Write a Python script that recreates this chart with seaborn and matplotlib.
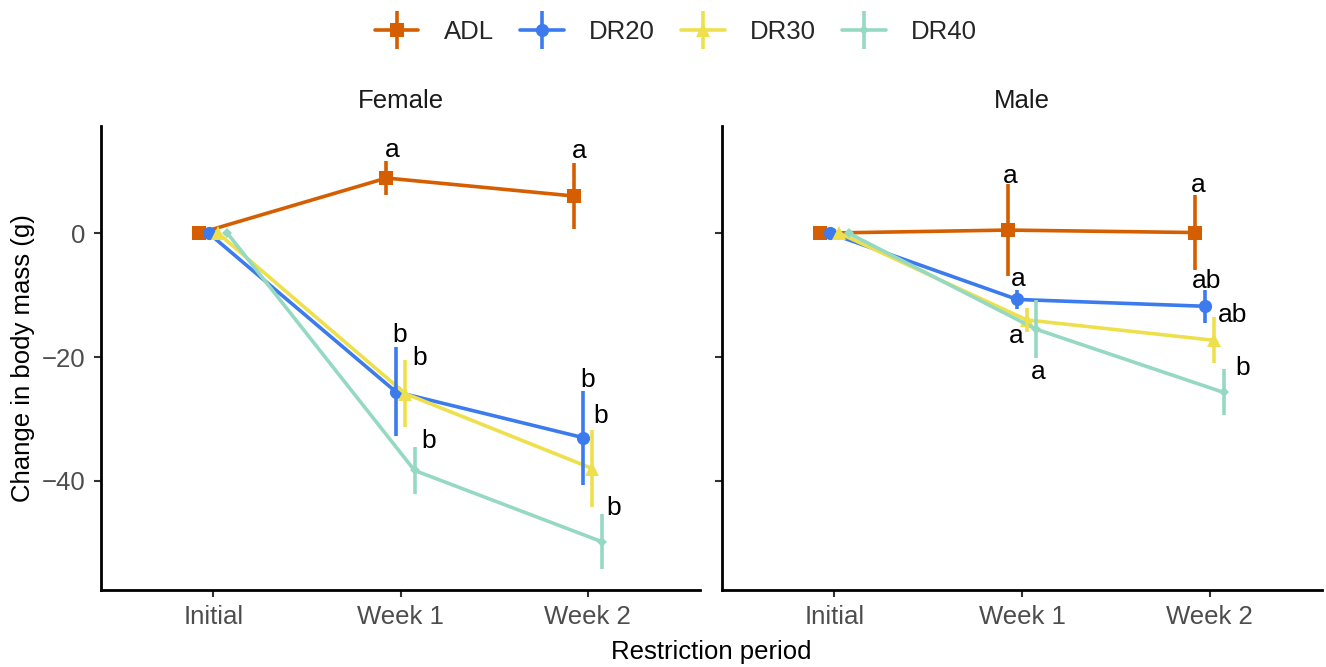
import numpy as np
import pandas as pd
import seaborn as sns
import matplotlib
matplotlib.use("Agg")
import matplotlib.pyplot as plt
from matplotlib.lines import Line2D
from matplotlib.legend_handler import HandlerTuple

# ---------------- data ----------------
periods = ["Initial", "Week 1", "Week 2"]
groups = ["ADL", "DR20", "DR30", "DR40"]
sexes = ["Female", "Male"]

female_adl_mean = [0.0, 8.9, 6.0]
female_dr20_mean = [0.0, -25.6, -33.0]
female_dr30_mean = [0.0, -25.9, -38.0]
female_dr40_mean = [0.0, -38.3, -49.8]
female_adl_se = [0.0, 2.8, 5.4]
female_dr20_se = [0.0, 7.2, 7.6]
female_dr30_se = [0.0, 5.4, 6.2]
female_dr40_se = [0.0, 3.8, 4.4]

male_adl_mean = [0.0, 0.5, 0.1]
male_dr20_mean = [0.0, -10.7, -11.8]
male_dr30_mean = [0.0, -14.0, -17.3]
male_dr40_mean = [0.0, -15.5, -25.7]
male_adl_se = [0.0, 7.4, 6.0]
male_dr20_se = [0.0, 1.6, 2.7]
male_dr30_se = [0.0, 1.9, 3.7]
male_dr40_se = [0.0, 4.7, 3.7]

female_letters = {"ADL": ["", "a", "a"], "DR20": ["", "b", "b"],
                  "DR30": ["", "b", "b"], "DR40": ["", "b", "b"]}
male_letters = {"ADL": ["", "a", "a"], "DR20": ["", "a", "ab"],
                "DR30": ["", "a", "ab"], "DR40": ["", "a", "b"]}

means = {"Female": {"ADL": female_adl_mean, "DR20": female_dr20_mean,
                    "DR30": female_dr30_mean, "DR40": female_dr40_mean},
         "Male": {"ADL": male_adl_mean, "DR20": male_dr20_mean,
                  "DR30": male_dr30_mean, "DR40": male_dr40_mean}}
ses = {"Female": {"ADL": female_adl_se, "DR20": female_dr20_se,
                  "DR30": female_dr30_se, "DR40": female_dr40_se},
       "Male": {"ADL": male_adl_se, "DR20": male_dr20_se,
                "DR30": male_dr30_se, "DR40": male_dr40_se}}
letters = {"Female": female_letters, "Male": male_letters}

rows = []
for s in sexes:
    for g in groups:
        for i, p in enumerate(periods):
            rows.append(dict(sex=s, group=g, period=p,
                             mean=means[s][g][i], se=ses[s][g][i],
                             letter=letters[s][g][i]))
df = pd.DataFrame(rows)

# ---------------- style ----------------
palette = {"ADL": "#D55E00", "DR20": "#3B7BEE", "DR30": "#EEE04C", "DR40": "#95D9C3"}
markers = {"ADL": "s", "DR20": "o", "DR30": "^", "DR40": "D"}
msizes = {"ADL": 9.5, "DR20": 9.5, "DR30": 10, "DR40": 5.5}
LW = 2.6
FS = 18.5
dodge = 0.15

# label nudges (dx in category units, dy in data units, anchor at errorbar end)
nudges = {
    ("Female", "ADL", 1): (0.03, 0.6, "up"), ("Female", "ADL", 2): (0.03, 0.7, "up"),
    ("Female", "DR20", 1): (0.02, 0.8, "up"), ("Female", "DR20", 2): (0.027, 0.6, "up"),
    ("Female", "DR30", 1): (0.075, -0.8, "up"), ("Female", "DR30", 2): (0.043, 1.2, "up"),
    ("Female", "DR40", 1): (0.075, -0.1, "up"), ("Female", "DR40", 2): (0.064, -0.1, "up"),
    ("Male", "ADL", 1): (0.01, 0.2, "up"), ("Male", "ADL", 2): (0.016, 0.5, "up"),
    ("Male", "DR20", 1): (0.005, 0.6, "up"), ("Male", "DR20", 2): (0.01, 0.2, "up"),
    ("Male", "DR30", 1): (-0.055, -1.8, "low"), ("Male", "DR30", 2): (0.096, -0.8, "up"),
    ("Male", "DR40", 1): (0.01, -3.3, "low"), ("Male", "DR40", 2): (0.1, -0.9, "up"),
}

sns.set_theme(style="ticks")
plt.rcParams["font.family"] = ["Liberation Sans", "DejaVu Sans"]
plt.rcParams["axes.linewidth"] = 2.0

W, H = 1326, 667
fig = plt.figure(figsize=(W / 100, H / 100), dpi=100)
ax_f = fig.add_axes([101 / W, 1 - 590 / H, 599 / W, 464 / H])
ax_m = fig.add_axes([722 / W, 1 - 590 / H, 600 / W, 464 / H], sharey=ax_f)

offsets = -dodge / 2 + np.arange(len(groups)) * dodge / (len(groups) - 1)

for s, ax in zip(sexes, [ax_f, ax_m]):
    sub = df[df.sex == s]
    n0 = len(ax.lines)
    sns.pointplot(data=sub, x="period", y="mean", hue="group", order=periods,
                  hue_order=groups, palette=palette,
                  markers=[markers[g] for g in groups], linestyles="-",
                  dodge=dodge, errorbar=None, markersize=9, linewidth=LW,
                  ax=ax, legend=False)
    new_lines = ax.lines[n0:]
    for ln, g in zip(new_lines, groups):
        ln.set_markersize(msizes[g])
        ln.set_markeredgewidth(0)
    for gi, g in enumerate(groups):
        gd = sub[sub.group == g].set_index("period").loc[periods]
        x = np.arange(len(periods)) + offsets[gi]
        ax.errorbar(x, gd["mean"].values, yerr=gd["se"].values, fmt="none",
                    ecolor=palette[g], elinewidth=LW, capsize=0, zorder=3)
        for i, p in enumerate(periods):
            lab = gd["letter"].iloc[i]
            if not lab:
                continue
            dx, dy, anc = nudges[(s, g, i)]
            m, e = gd["mean"].iloc[i], gd["se"].iloc[i]
            yb = (m + e if anc == "up" else m - e) + dy
            ax.text(x[i] + dx, yb, lab, ha="center", va="baseline",
                    fontsize=FS + 0.5, color="black", zorder=5)

    ax.set_xlim(-0.6, 2.6)
    ax.set_ylim(-57.6, 17.3)
    ax.set_yticks([-40, -20, 0])
    ax.set_xlabel("")
    ax.set_ylabel("")
    ax.set_title(s, fontsize=FS, pad=13, color="#1A1A1A")
    ax.tick_params(axis="both", labelsize=FS, colors="#333333", labelcolor="#4D4D4D",
                   length=5, width=1.5, pad=6)
    sns.despine(ax=ax)
    ax.spines["left"].set_color("black")
    ax.spines["bottom"].set_color("black")

ax_m.tick_params(axis="y", labelleft=False)

fig.text(711 / W, 1 - 652 / H, "Restriction period", ha="center", va="center",
         fontsize=FS, color="black")
fig.text(23 / W, 1 - 358 / H, "Change in body mass (g)", ha="center", va="center",
         rotation=90, fontsize=FS, color="black")

handles = []
for g in groups:
    h1 = Line2D([], [], color=palette[g], lw=LW, marker=markers[g],
                markersize=msizes[g], markeredgewidth=0)
    h2 = Line2D([], [], color=palette[g], lw=0, marker="|", markersize=28,
                markeredgewidth=LW)
    handles.append((h1, h2))

fig.legend(handles, groups, loc="center", bbox_to_anchor=(676 / W, 1 - 32 / H),
           ncol=4, frameon=False, fontsize=FS, handlelength=1.7,
           handletextpad=1.0, columnspacing=1.0,
           handler_map={tuple: HandlerTuple(ndivide=1, pad=0)})

fig.savefig("out.png", dpi=100)
